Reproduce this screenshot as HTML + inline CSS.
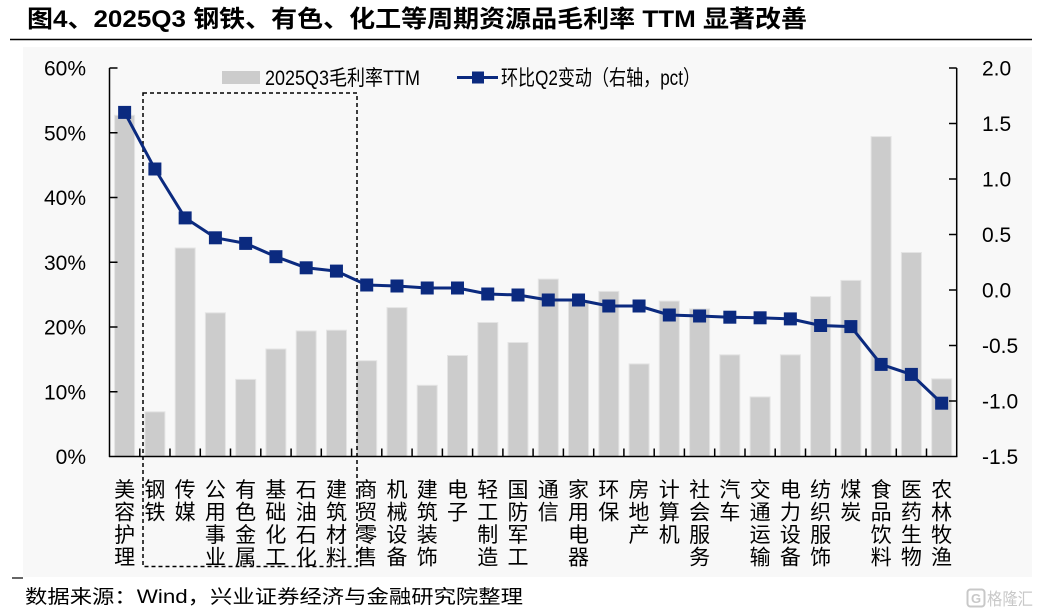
<!DOCTYPE html>
<html><head><meta charset="utf-8">
<style>
html,body{margin:0;padding:0;background:#fff;}
svg{display:block;}
text{font-family:"Liberation Sans","Noto Sans CJK SC",sans-serif;}
.cj{font-family:"Liberation Sans","Noto Sans CJK SC",sans-serif;}
</style></head>
<body>
<svg width="1040" height="615" viewBox="0 0 1040 615" xmlns="http://www.w3.org/2000/svg">
<rect x="0" y="0" width="1040" height="615" fill="#fff"/>
<!-- title -->
<text x="27" y="27" font-size="24" font-weight="bold" fill="#000" textLength="780" lengthAdjust="spacingAndGlyphs">图4、2025Q3 钢铁、有色、化工等周期资源品毛利率 TTM 显著改善</text>
<line x1="10" y1="39.5" x2="1032" y2="39.5" stroke="#000" stroke-width="1.5"/>
<!-- chart bg -->
<rect x="23" y="47" width="1009" height="530" fill="#f8f8f8"/>

<!-- bars -->
<g fill="#cccccc" stroke="#e4e4e4" stroke-width="1">
<rect x="114.6" y="115.3" width="20" height="341.2"/>
<rect x="144.9" y="411.8" width="20" height="44.7"/>
<rect x="175.2" y="248.0" width="20" height="208.5"/>
<rect x="205.4" y="312.8" width="20" height="143.7"/>
<rect x="235.7" y="379.4" width="20" height="77.1"/>
<rect x="265.9" y="349.0" width="20" height="107.5"/>
<rect x="296.2" y="330.9" width="20" height="125.6"/>
<rect x="326.5" y="330.2" width="20" height="126.3"/>
<rect x="356.7" y="360.7" width="20" height="95.8"/>
<rect x="387.0" y="307.6" width="20" height="148.9"/>
<rect x="417.2" y="385.3" width="20" height="71.2"/>
<rect x="447.5" y="355.5" width="20" height="101.0"/>
<rect x="477.8" y="322.5" width="20" height="134.0"/>
<rect x="508.0" y="342.5" width="20" height="114.0"/>
<rect x="538.3" y="279.1" width="20" height="177.4"/>
<rect x="568.5" y="301.1" width="20" height="155.4"/>
<rect x="598.8" y="291.4" width="20" height="165.1"/>
<rect x="629.1" y="363.9" width="20" height="92.6"/>
<rect x="659.3" y="301.1" width="20" height="155.4"/>
<rect x="689.6" y="308.9" width="20" height="147.6"/>
<rect x="719.8" y="354.8" width="20" height="101.7"/>
<rect x="750.1" y="396.9" width="20" height="59.6"/>
<rect x="780.4" y="354.8" width="20" height="101.7"/>
<rect x="810.6" y="296.6" width="20" height="159.9"/>
<rect x="840.9" y="280.4" width="20" height="176.1"/>
<rect x="871.1" y="136.6" width="20" height="319.9"/>
<rect x="901.4" y="252.5" width="20" height="204.0"/>
<rect x="931.7" y="378.8" width="20" height="77.7"/>
</g>

<!-- axes -->
<g stroke="#000" stroke-width="1.5" fill="none">
<line x1="109.5" y1="68" x2="109.5" y2="457"/>
<line x1="956.7" y1="68" x2="956.7" y2="457"/>
<line x1="109" y1="456.5" x2="957.4" y2="456.5"/>
<line x1="109.5" y1="68" x2="117.5" y2="68"/>
<line x1="109.5" y1="132.75" x2="117.5" y2="132.75"/>
<line x1="109.5" y1="197.5" x2="117.5" y2="197.5"/>
<line x1="109.5" y1="262.25" x2="117.5" y2="262.25"/>
<line x1="109.5" y1="327" x2="117.5" y2="327"/>
<line x1="109.5" y1="391.75" x2="117.5" y2="391.75"/>
<line x1="949" y1="68" x2="956.7" y2="68"/>
<line x1="949" y1="123.5" x2="956.7" y2="123.5"/>
<line x1="949" y1="179" x2="956.7" y2="179"/>
<line x1="949" y1="234.5" x2="956.7" y2="234.5"/>
<line x1="949" y1="290" x2="956.7" y2="290"/>
<line x1="949" y1="345.5" x2="956.7" y2="345.5"/>
<line x1="949" y1="401" x2="956.7" y2="401"/>
<path d="M139.8 456.5V448.5M170.0 456.5V448.5M200.3 456.5V448.5M230.5 456.5V448.5M260.8 456.5V448.5M291.1 456.5V448.5M321.3 456.5V448.5M351.6 456.5V448.5M381.8 456.5V448.5M412.1 456.5V448.5M442.4 456.5V448.5M472.6 456.5V448.5M502.9 456.5V448.5M533.1 456.5V448.5M563.4 456.5V448.5M593.7 456.5V448.5M623.9 456.5V448.5M654.2 456.5V448.5M684.4 456.5V448.5M714.7 456.5V448.5M745.0 456.5V448.5M775.2 456.5V448.5M805.5 456.5V448.5M835.7 456.5V448.5M866.0 456.5V448.5M896.3 456.5V448.5M926.5 456.5V448.5"/>
</g>

<!-- left labels -->
<g font-size="21" fill="#000" text-anchor="end">
<text x="86" y="75.5">60%</text>
<text x="86" y="140.25">50%</text>
<text x="86" y="205">40%</text>
<text x="86" y="269.75">30%</text>
<text x="86" y="334.5">20%</text>
<text x="86" y="399.25">10%</text>
<text x="86" y="464">0%</text>
</g>
<!-- right labels -->
<g font-size="21" fill="#000">
<text x="982" y="75.5">2.0</text>
<text x="982" y="131">1.5</text>
<text x="982" y="186.5">1.0</text>
<text x="982" y="242">0.5</text>
<text x="982" y="297.5">0.0</text>
<text x="982" y="353">-0.5</text>
<text x="982" y="408.5">-1.0</text>
<text x="982" y="464">-1.5</text>
</g>

<!-- dashed box -->
<rect x="143" y="93" width="214" height="473.5" fill="none" stroke="#000" stroke-width="1.5" stroke-dasharray="4,3"/>

<!-- line series -->
<polyline fill="none" stroke="#0b2a7f" stroke-width="3" stroke-linejoin="round" points="124.63,112.4 154.89,169.0 185.15,217.9 215.41,237.8 245.67,243.4 275.93,256.7 306.19,267.8 336.45,271.1 366.71,285.0 396.97,286.0 427.23,288.0 457.49,288.0 487.75,294.0 518.01,295.0 548.27,300.0 578.53,300.0 608.79,306.0 639.05,306.0 669.31,315.0 699.57,316.0 729.83,317.2 760.09,317.8 790.35,318.9 820.61,325.5 850.87,326.6 881.13,364.4 911.39,374.4 941.65,403.2"/>
<g fill="#0b2a7f">
<rect x="118.13" y="105.9" width="13" height="13"/>
<rect x="148.39" y="162.5" width="13" height="13"/>
<rect x="178.65" y="211.4" width="13" height="13"/>
<rect x="208.91" y="231.3" width="13" height="13"/>
<rect x="239.17" y="236.9" width="13" height="13"/>
<rect x="269.43" y="250.2" width="13" height="13"/>
<rect x="299.69" y="261.3" width="13" height="13"/>
<rect x="329.95" y="264.6" width="13" height="13"/>
<rect x="360.21" y="278.5" width="13" height="13"/>
<rect x="390.47" y="279.5" width="13" height="13"/>
<rect x="420.73" y="281.5" width="13" height="13"/>
<rect x="450.99" y="281.5" width="13" height="13"/>
<rect x="481.25" y="287.5" width="13" height="13"/>
<rect x="511.51" y="288.5" width="13" height="13"/>
<rect x="541.77" y="293.5" width="13" height="13"/>
<rect x="572.03" y="293.5" width="13" height="13"/>
<rect x="602.29" y="299.5" width="13" height="13"/>
<rect x="632.55" y="299.5" width="13" height="13"/>
<rect x="662.81" y="308.5" width="13" height="13"/>
<rect x="693.07" y="309.5" width="13" height="13"/>
<rect x="723.33" y="310.7" width="13" height="13"/>
<rect x="753.59" y="311.3" width="13" height="13"/>
<rect x="783.85" y="312.4" width="13" height="13"/>
<rect x="814.11" y="319.0" width="13" height="13"/>
<rect x="844.37" y="320.1" width="13" height="13"/>
<rect x="874.63" y="357.9" width="13" height="13"/>
<rect x="904.89" y="367.9" width="13" height="13"/>
<rect x="935.15" y="396.7" width="13" height="13"/>
</g>

<!-- legend -->
<rect x="222" y="71" width="38" height="13" fill="#cccccc"/>
<text x="265" y="85" font-size="21" fill="#000" textLength="155" lengthAdjust="spacingAndGlyphs">2025Q3毛利率TTM</text>
<line x1="457" y1="77.5" x2="498" y2="77.5" stroke="#0b2a7f" stroke-width="3"/>
<rect x="472" y="71.5" width="12" height="12" fill="#0b2a7f"/>
<text x="501" y="85" font-size="21" fill="#000" textLength="199" lengthAdjust="spacingAndGlyphs">环比Q2变动（右轴，pct）</text>

<!-- x labels -->
<g font-size="21" fill="#000" text-anchor="middle" class="cj">
<text x="124.63" y="497">美</text><text x="124.63" y="519.5">容</text><text x="124.63" y="542">护</text><text x="124.63" y="564.5">理</text>
<text x="154.89" y="497">钢</text><text x="154.89" y="519.5">铁</text>
<text x="185.15" y="497">传</text><text x="185.15" y="519.5">媒</text>
<text x="215.41" y="497">公</text><text x="215.41" y="519.5">用</text><text x="215.41" y="542">事</text><text x="215.41" y="564.5">业</text>
<text x="245.67" y="497">有</text><text x="245.67" y="519.5">色</text><text x="245.67" y="542">金</text><text x="245.67" y="564.5">属</text>
<text x="275.93" y="497">基</text><text x="275.93" y="519.5">础</text><text x="275.93" y="542">化</text><text x="275.93" y="564.5">工</text>
<text x="306.19" y="497">石</text><text x="306.19" y="519.5">油</text><text x="306.19" y="542">石</text><text x="306.19" y="564.5">化</text>
<text x="336.45" y="497">建</text><text x="336.45" y="519.5">筑</text><text x="336.45" y="542">材</text><text x="336.45" y="564.5">料</text>
<text x="366.71" y="497">商</text><text x="366.71" y="519.5">贸</text><text x="366.71" y="542">零</text><text x="366.71" y="564.5">售</text>
<text x="396.97" y="497">机</text><text x="396.97" y="519.5">械</text><text x="396.97" y="542">设</text><text x="396.97" y="564.5">备</text>
<text x="427.23" y="497">建</text><text x="427.23" y="519.5">筑</text><text x="427.23" y="542">装</text><text x="427.23" y="564.5">饰</text>
<text x="457.49" y="497">电</text><text x="457.49" y="519.5">子</text>
<text x="487.75" y="497">轻</text><text x="487.75" y="519.5">工</text><text x="487.75" y="542">制</text><text x="487.75" y="564.5">造</text>
<text x="518.01" y="497">国</text><text x="518.01" y="519.5">防</text><text x="518.01" y="542">军</text><text x="518.01" y="564.5">工</text>
<text x="548.27" y="497">通</text><text x="548.27" y="519.5">信</text>
<text x="578.53" y="497">家</text><text x="578.53" y="519.5">用</text><text x="578.53" y="542">电</text><text x="578.53" y="564.5">器</text>
<text x="608.79" y="497">环</text><text x="608.79" y="519.5">保</text>
<text x="639.05" y="497">房</text><text x="639.05" y="519.5">地</text><text x="639.05" y="542">产</text>
<text x="669.31" y="497">计</text><text x="669.31" y="519.5">算</text><text x="669.31" y="542">机</text>
<text x="699.57" y="497">社</text><text x="699.57" y="519.5">会</text><text x="699.57" y="542">服</text><text x="699.57" y="564.5">务</text>
<text x="729.83" y="497">汽</text><text x="729.83" y="519.5">车</text>
<text x="760.09" y="497">交</text><text x="760.09" y="519.5">通</text><text x="760.09" y="542">运</text><text x="760.09" y="564.5">输</text>
<text x="790.35" y="497">电</text><text x="790.35" y="519.5">力</text><text x="790.35" y="542">设</text><text x="790.35" y="564.5">备</text>
<text x="820.61" y="497">纺</text><text x="820.61" y="519.5">织</text><text x="820.61" y="542">服</text><text x="820.61" y="564.5">饰</text>
<text x="850.87" y="497">煤</text><text x="850.87" y="519.5">炭</text>
<text x="881.13" y="497">食</text><text x="881.13" y="519.5">品</text><text x="881.13" y="542">饮</text><text x="881.13" y="564.5">料</text>
<text x="911.39" y="497">医</text><text x="911.39" y="519.5">药</text><text x="911.39" y="542">生</text><text x="911.39" y="564.5">物</text>
<text x="941.65" y="497">农</text><text x="941.65" y="519.5">林</text><text x="941.65" y="542">牧</text><text x="941.65" y="564.5">渔</text>
</g>

<!-- source -->
<line x1="12" y1="578" x2="23" y2="578" stroke="#000" stroke-width="1.2"/>
<text x="25" y="603" font-size="19" fill="#000" textLength="498" lengthAdjust="spacingAndGlyphs">数据来源：Wind，兴业证券经济与金融研究院整理</text>

<!-- watermark -->
<rect x="967.5" y="589.5" width="17" height="17" rx="3" fill="none" stroke="#c8c8c8" stroke-width="2"/>
<text x="976" y="603" font-size="13" fill="#c8c8c8" text-anchor="middle" font-weight="bold">G</text>
<text x="987" y="605" font-size="17" fill="#c8c8c8" textLength="46" lengthAdjust="spacingAndGlyphs">格隆汇</text>
</svg>
</body></html>
